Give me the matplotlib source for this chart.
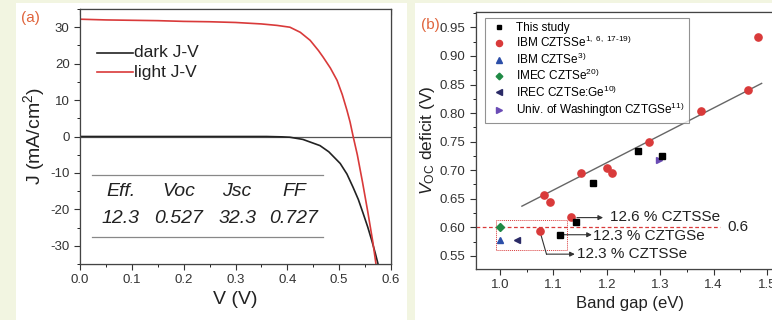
import matplotlib.pyplot as plt
from matplotlib.patches import Rectangle
from matplotlib.ticker import MultipleLocator

plt.rcParams['font.family'] = ['Liberation Sans', 'DejaVu Sans']
plt.rcParams['mathtext.fontset'] = 'custom'
plt.rcParams['mathtext.rm'] = 'Liberation Sans'
plt.rcParams['mathtext.it'] = 'Liberation Sans:italic'
plt.rcParams['axes.unicode_minus'] = False

# J-V curves of the champion cell
v_light = [0.0, 0.05, 0.10, 0.15, 0.20, 0.25, 0.30, 0.35, 0.38, 0.405, 0.425, 0.444,
           0.46, 0.469, 0.483, 0.496, 0.506, 0.515, 0.521, 0.527, 0.535, 0.545,
           0.555, 0.565, 0.571]
j_light = [32.2, 32.0, 31.9, 31.8, 31.6, 31.5, 31.3, 30.9, 30.5, 30.0, 28.6, 26.4,
           23.6, 21.8, 18.8, 15.4, 11.5, 7.2, 4.0, 0.0, -5.0, -12.5,
           -20.5, -29.0, -35.0]
v_dark = [0.0, 0.10, 0.20, 0.30, 0.36, 0.39, 0.405, 0.43, 0.463, 0.48, 0.502,
          0.515, 0.527, 0.537, 0.546, 0.555, 0.563, 0.570, 0.575]
j_dark = [0.0, 0.0, 0.0, 0.0, 0.0, -0.1, -0.2, -0.8, -2.5, -4.2, -7.4,
          -10.3, -14.0, -17.3, -21.0, -24.8, -28.6, -32.2, -35.0]

table_heads = ['Eff.', 'Voc', 'Jsc', 'FF']
table_vals = ['12.3', '0.527', '32.3', '0.727']
table_x = [0.079, 0.190, 0.303, 0.413]

# Voc deficit vs band gap
this_eg = [1.112, 1.142, 1.175, 1.259, 1.303]
this_def = [0.587, 0.610, 0.678, 0.734, 0.724]
ibm_eg = [1.074, 1.083, 1.094, 1.132, 1.152, 1.200, 1.210, 1.279, 1.376, 1.465, 1.484]
ibm_def = [0.594, 0.657, 0.644, 0.618, 0.695, 0.704, 0.695, 0.749, 0.803, 0.841, 0.933]
ibm_czts_eg, ibm_czts_def = [1.0], [0.578]
imec_eg, imec_def = [1.0], [0.601]
irec_eg, irec_def = [1.032], [0.578]
uw_eg, uw_def = [1.298], [0.718]
fit_eg = [1.041, 1.49]
fit_def = [0.637, 0.852]

RED = '#d93a3a'
GRAY = '#555555'
INK = '#222222'

fig = plt.figure(figsize=(7.72, 3.2), dpi=100)
fig.patch.set_facecolor('#f2f5e1')
W, H = 772.0, 320.0
fig.patches.append(Rectangle((16 / W, 0), 391 / W, 317 / H, transform=fig.transFigure,
                             facecolor='white', edgecolor='none', zorder=-10))
fig.patches.append(Rectangle((415 / W, 0), 357 / W, 317 / H, transform=fig.transFigure,
                             facecolor='white', edgecolor='none', zorder=-10))


def style_axes(ax, xmaj, xmin, ymaj, ymin):
    ax.xaxis.set_major_locator(MultipleLocator(xmaj))
    ax.xaxis.set_minor_locator(MultipleLocator(xmin))
    ax.yaxis.set_major_locator(MultipleLocator(ymaj))
    ax.yaxis.set_minor_locator(MultipleLocator(ymin))
    ax.tick_params(which='major', direction='out', length=4, width=0.8,
                   labelsize=9.5, colors='#333333')
    ax.tick_params(which='minor', direction='out', length=2, width=0.6)
    for s in ax.spines.values():
        s.set_color('#444444')
        s.set_linewidth(0.9)
    # inward ticks along the top edge
    top = ax.twiny()
    top.set_xlim(ax.get_xlim())
    top.xaxis.set_major_locator(MultipleLocator(xmaj))
    top.xaxis.set_minor_locator(MultipleLocator(xmin))
    top.tick_params(which='major', direction='in', length=4, width=0.8, labeltop=False,
                    colors='#444444')
    top.tick_params(which='minor', direction='in', length=2, width=0.6, colors='#444444')
    top.set_zorder(ax.get_zorder() - 1)
    return top


# (a) J-V
ax1 = fig.add_axes([80 / W, 1 - 264 / H, 311 / W, 255 / H])
ax1.axhline(0, color=GRAY, lw=0.9)
ax1.plot(v_dark, j_dark, color=INK, lw=1.2)
ax1.plot(v_light, j_light, color=RED, lw=1.2)
ax1.set_xlim(0, 0.6)
ax1.set_ylim(-35, 35)
style_axes(ax1, 0.1, 0.05, 10, 5)
ax1.set_xlabel('V (V)', fontsize=14, color=INK, labelpad=3)
ax1.set_ylabel('J (mA/cm$^2$)', fontsize=14, color=INK, labelpad=2)

# legend drawn by hand
ax1.plot([0.033, 0.102], [23, 23], color=INK, lw=1.2)
ax1.plot([0.033, 0.102], [17.7, 17.7], color=RED, lw=1.2)
ax1.text(0.105, 23, 'dark J-V', fontsize=12.5, va='center', color=INK)
ax1.text(0.105, 17.7, 'light J-V', fontsize=12.5, va='center', color=INK)

# parameter table
ax1.plot([0.023, 0.469], [-10.7, -10.7], color='#888888', lw=0.9)
ax1.plot([0.023, 0.469], [-27.7, -27.7], color='#888888', lw=0.9)
for x, h, v in zip(table_x, table_heads, table_vals):
    ax1.text(x, -15.0, h, style='italic', fontsize=14, ha='center', va='center',
             color=INK)
    ax1.text(x, -22.6, v, style='italic', fontsize=14, ha='center', va='center',
             color=INK)

fig.text(21 / W, 1 - 18 / H, '(a)', color='#e0643c', fontsize=11, va='center')

# (b) Voc deficit
ax2 = fig.add_axes([476 / W, 1 - 269 / H, 307 / W, 257 / H])
ax2.set_xlim(0.955, 1.53)
ax2.set_ylim(0.527, 0.977)
style_axes(ax2, 0.1, 0.05, 0.05, 0.025)
ax2.set_xlabel('Band gap (eV)', fontsize=12, color=INK, labelpad=3)
ax2.set_ylabel('$V_{\\mathregular{OC}}$ deficit (V)', fontsize=12.5, color=INK,
               labelpad=2)

ax2.plot(fit_eg, fit_def, color='#666666', lw=1.0, zorder=2)
ax2.plot([0.955, 1.412], [0.6, 0.6], color=RED, lw=0.9, ls=(0, (3, 2)), zorder=1)
ax2.text(1.425, 0.6, '0.6', fontsize=11, va='center', color=INK)
ax2.add_patch(Rectangle((0.993, 0.5605), 0.132, 0.0525, fill=False, edgecolor=RED,
                        lw=0.7, ls=(0, (1, 1)), zorder=1))

ax2.plot(this_eg, this_def, 's', color='black', ms=4.2, ls='none', label='This study', zorder=4)
ax2.plot(ibm_eg, ibm_def, 'o', color=RED, ms=5.2, ls='none',
         label='IBM CZTSSe$^{\\mathregular{1,\\ 6,\\ 17\\text{-}19)}}$', zorder=3)
ax2.plot(ibm_czts_eg, ibm_czts_def, '^', color='#2b4ea8', ms=5, ls='none',
         label='IBM CZTSe$^{\\mathregular{3)}}$', zorder=3)
ax2.plot(imec_eg, imec_def, 'D', color='#1f8a45', ms=4, ls='none',
         label='IMEC CZTSe$^{\\mathregular{20)}}$', zorder=3)
ax2.plot(irec_eg, irec_def, '<', color='#2a2a66', ms=5, ls='none',
         label='IREC CZTSe:Ge$^{\\mathregular{10)}}$', zorder=3)
ax2.plot(uw_eg, uw_def, '>', color='#6a4bb5', ms=5, ls='none',
         label='Univ. of Washington CZTGSe$^{\\mathregular{11)}}$', zorder=3)
leg = ax2.legend(loc='upper left', bbox_to_anchor=(0.029, 0.977), borderaxespad=0,
                 fontsize=8.5, frameon=True, fancybox=False,
                 handletextpad=0.6, labelspacing=0.1, borderpad=0.35,
                 handlelength=1.7, markerscale=0.85)
leg.get_frame().set_edgecolor('#777777')
leg.get_frame().set_linewidth(0.8)

arrow = dict(arrowstyle='-|>', color='#333333', lw=0.8, mutation_scale=7,
             shrinkA=0, shrinkB=0)
ax2.annotate('', xy=(1.193, 0.617), xytext=(1.144, 0.617), arrowprops=arrow)
ax2.text(1.206, 0.618, '12.6 % CZTSSe', fontsize=11, va='center', color=INK)
ax2.annotate('', xy=(1.172, 0.587), xytext=(1.115, 0.587), arrowprops=arrow)
ax2.text(1.175, 0.584, '12.3 % CZTGSe', fontsize=11, va='center', color=INK)
ax2.plot([1.075, 1.087], [0.592, 0.553], color='#333333', lw=0.8)
ax2.annotate('', xy=(1.14, 0.553), xytext=(1.087, 0.553), arrowprops=arrow)
ax2.text(1.145, 0.553, '12.3 % CZTSSe', fontsize=11, va='center', color=INK)

fig.text(421 / W, 1 - 25 / H, '(b)', color='#e0643c', fontsize=11, va='center')

fig.savefig('out.png', dpi=100, facecolor=fig.get_facecolor())
